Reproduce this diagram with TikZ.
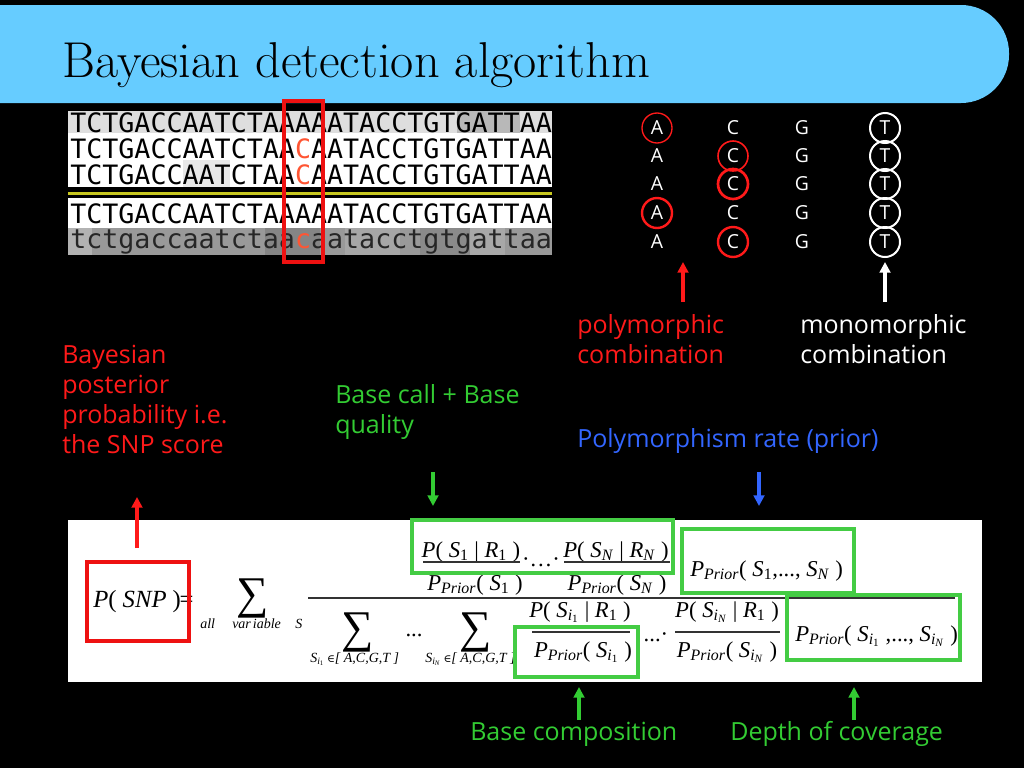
\documentclass[tikz,border=0pt]{standalone}
\usepackage{fontspec}
\usetikzlibrary{arrows.meta}
\newfontfamily\lab{Open Sans}
\newfontfamily\seqf{DejaVu Sans Mono}
\newfontfamily\tnr{Liberation Serif}
\newfontfamily\dvs{DejaVu Serif}
\definecolor{barblue}{HTML}{66CCFF}
\definecolor{lred}{HTML}{FF1A1A}
\definecolor{lgreen}{HTML}{33CC33}
\definecolor{lblue}{HTML}{3366FF}
\definecolor{bgreen}{HTML}{44CC44}
\definecolor{cred}{HTML}{FF5533}
\definecolor{boxred}{HTML}{EE1111}
\definecolor{yline}{HTML}{C8C820}
\newcommand\ssb[1]{\textsubscript{#1}}
\newcommand\Pp{\textit{P}\ssb{\textit{Prior}}}
\newcommand\elt{{\dvs\fontsize{8}{10}\selectfont ∈}}
\tikzset{
  titletxt/.style={font=\fontsize{37.8}{44}\selectfont, text=black, inner sep=0pt, anchor=base west},
  seqtxt/.style={font=\seqf\fontsize{20}{24}\selectfont, text=black, inner sep=0pt, anchor=base west},
  lbl/.style={font=\lab\fontsize{18.75}{22.5}\selectfont, align=left, inner sep=0pt},
  letter/.style={font=\lab\fontsize{14.5}{17}\selectfont, text=white, inner sep=0pt, circle, minimum size=22.5pt},
  fml/.style={font=\tnr\fontsize{17}{20}\selectfont, text=black, inner sep=0pt, anchor=base},
  fsm/.style={font=\tnr\fontsize{10.5}{12}\selectfont, text=black, inner sep=0pt, anchor=base west},
  sumsym/.style={font=\tnr\fontsize{34}{36}\selectfont, text=black, inner sep=0pt},
  arr/.style={line width=2.3pt, -{Triangle[length=8pt,width=8pt]}},
  gbox/.style={draw=bgreen, line width=3pt},
  rbox/.style={draw=boxred, line width=3pt},
  fbar/.style={draw=black!80, line width=0.8pt}
}
\begin{document}
\begin{tikzpicture}[x=0.75pt,y=-0.75pt]
\useasboundingbox (0,0) rectangle (1024,768);
\fill[black] (0,0) rectangle (1024,768);
% title bar
\fill[barblue, rounded corners=36pt] (-60,5) rectangle (1009,103);
\node[titletxt] (title) at (62,77) {Bayesian detection algorithm};

% sequence alignment picture
\begin{scope}
\clip (68,111) rectangle (552,255);
\fill[black!13] (68,110) rectangle (552,133);
\fill[black!28] (457,110) rectangle (520,133);
\fill[white] (68,133) rectangle (552,187);
\fill[black!9] (183,160) rectangle (230,187);
\fill[black] (68,187) rectangle (552,198);
\fill[yline] (68,192) rectangle (552,195);
\fill[white] (68,198) rectangle (552,228);
\fill[black!40] (68,228) rectangle (552,255);
\fill[black!30] (68,228) rectangle (92,255);
\fill[black!48] (265,228) rectangle (320,255);
\fill[black!35] (345,228) rectangle (400,255);
\fill[black!46] (420,228) rectangle (470,255);
\fill[black!34] (470,228) rectangle (505,255);
\node[seqtxt] (r1) at (70,132) {TCTGACCAATCTAAAAATACCTGTGATTAA};
\node[seqtxt] (r2) at (70,158) {TCTGACCAATCTAA\textcolor{cred}{C}AATACCTGTGATTAA};
\node[seqtxt] (r3) at (70,184) {TCTGACCAATCTAA\textcolor{cred}{C}AATACCTGTGATTAA};
\node[seqtxt] (r4) at (70,223) {TCTGACCAATCTAAAAATACCTGTGATTAA};
\node[seqtxt, text=black!85] (r5) at (70,248) {tctgaccaatctaa\textcolor{cred}{c}aatacctgtgattaa};
\end{scope}
\draw[rbox] (284,101) rectangle (323,262);

% base columns
\node[letter, draw=lred, line width=1pt] (a1) at (657,128) {A};
\node[letter] (a2) at (657,156) {A};
\node[letter] (a3) at (657,184) {A};
\node[letter, draw=lred, line width=1.8pt] (a4) at (657,213) {A};
\node[letter] (a5) at (657,242) {A};
\node[letter] (c1) at (733,128) {C};
\node[letter, draw=lred, line width=1.2pt] (c2) at (733,156) {C};
\node[letter, draw=lred, line width=2pt] (c3) at (733,184) {C};
\node[letter] (c4) at (733,213) {C};
\node[letter, draw=lred, line width=1.8pt] (c5) at (733,242) {C};
\node[letter] (g1) at (802,128) {G};
\node[letter] (g2) at (802,156) {G};
\node[letter] (g3) at (802,184) {G};
\node[letter] (g4) at (802,213) {G};
\node[letter] (g5) at (802,242) {G};
\node[letter, draw=white, line width=1.5pt] (t1) at (885,128) {T};
\node[letter, draw=white, line width=1.5pt] (t2) at (885,156) {T};
\node[letter, draw=white, line width=1.5pt] (t3) at (885,184) {T};
\node[letter, draw=white, line width=1.5pt] (t4) at (885,213) {T};
\node[letter, draw=white, line width=1.5pt] (t5) at (885,242) {T};

% labels
\node[lbl, text=lred, anchor=north west] (poly) at (577,314) {polymorphic\\combination};
\node[lbl, text=white, anchor=north west] (mono) at (800,314) {monomorphic\\combination};
\node[lbl, text=lred, anchor=north west] (bay) at (62,345) {Bayesian\\posterior\\probability i.e.\\the SNP score};
\node[lbl, text=lgreen, anchor=north west] (bcall) at (335,384) {Base call + Base\\quality};
\node[lbl, text=lblue, anchor=base west] (prate) at (577,447) {Polymorphism rate (prior)};
\node[lbl, text=lgreen, anchor=base west] (bcomp) at (470,740) {Base composition};
\node[lbl, text=lgreen, anchor=base west] (depth) at (730,740) {Depth of coverage};

% arrows
\coordinate (pa1) at (683,302); \coordinate (pa2) at (683,262);
\coordinate (ma1) at (885,302); \coordinate (ma2) at (885,262);
\coordinate (ga1) at (433,472); \coordinate (ga2) at (433,506);
\coordinate (ba1) at (759,472); \coordinate (ba2) at (759,506);
\coordinate (ra1) at (137,548); \coordinate (ra2) at (137,497);
\coordinate (ca1) at (579,720); \coordinate (ca2) at (579,687);
\coordinate (da1) at (854,720); \coordinate (da2) at (854,687);

% formula panel
\fill[white] (68,520) rectangle (982,682);
\draw[arr, lred] (pa1) -- (pa2);
\draw[arr, white] (ma1) -- (ma2);
\draw[arr, lgreen] (ga1) -- (ga2);
\draw[arr, lblue] (ba1) -- (ba2);
\draw[arr, lred, line width=3pt] (ra1) -- (ra2);
\draw[arr, lgreen] (ca1) -- (ca2);
\draw[arr, lgreen] (da1) -- (da2);

\node[fml, font=\tnr\fontsize{18.5}{22}\selectfont, anchor=base west] (psnp) at (93,607) {\textit{P}( \textit{SNP} )\kern-1pt=};
\node[sumsym] (sum1) at (253,598) {∑};
\node[fsm] (sall) at (200,628) {\textit{all}};
\node[fsm] (svar) at (232,628) {\textit{var\kern1.5pt iable}};
\node[fsm] (sS) at (295,628) {\textit{S}};
\draw[fbar] (308,598) -- (955,598);
% numerator
\node[fml] (n1) at (471,557) {\textit{P}( \textit{S}\ssb{1} | \textit{R}\ssb{1} )};
\draw[fbar] (423,562) -- (520,562);
\node[fml] (d1) at (475,590) {\Pp( \textit{S}\ssb{1} )};
\node[fml] (dots1) at (541,566) {·…·};
\node[fml] (n2) at (616,557) {\textit{P}( \textit{S}\ssb{\textit{N}} | \textit{R}\ssb{\textit{N}} )};
\draw[fbar] (564,562) -- (670,562);
\node[fml] (d2) at (617,590) {\Pp( \textit{S}\ssb{\textit{N}} )};
\node[fml, anchor=base west] (pp1) at (690,576) {\Pp( \textit{S}\ssb{1},..., \textit{S}\ssb{\textit{N}} )};
% denominator
\node[sumsym] (sum2) at (358,632) {∑};
\node[fsm] (sub1) at (310,662) {\textit{S}\ssb{\textit{i}\ssb{1}}\,\elt\textit{[ A,C,G,T ]}};
\node[fml] (dots2) at (414,636) {...};
\node[sumsym] (sum3) at (476,632) {∑};
\node[fsm] (sub2) at (425,662) {\textit{S}\ssb{\textit{i}\ssb{\textit{N}}}\,\elt\textit{[ A,C,G,T ]}};
\node[fml] (n3) at (580,617) {\textit{P}( \textit{S}\ssb{\textit{i}\ssb{1}} | \textit{R}\ssb{1} )};
\draw[fbar] (532,632) -- (630,632);
\node[fml] (d3) at (583,657) {\Pp( \textit{S}\ssb{\textit{i}\ssb{1}} )};
\node[fml] (dots3) at (656,641) {...·};
\node[fml] (n4) at (727,617) {\textit{P}( \textit{S}\ssb{\textit{i}\ssb{\textit{N}}} | \textit{R}\ssb{1} )};
\draw[fbar] (675,632) -- (780,632);
\node[fml] (d4) at (727,657) {\Pp( \textit{S}\ssb{\textit{i}\ssb{\textit{N}}} )};
\node[fml, anchor=base west] (pp2) at (795,641) {\Pp( \textit{S}\ssb{\textit{i}\ssb{1}} ,..., \textit{S}\ssb{\textit{i}\ssb{\textit{N}}} )};
% highlight boxes
\draw[rbox] (87,562) rectangle (189,641);
\draw[gbox] (412,520) rectangle (673,573);
\draw[gbox] (682,529) rectangle (854,593);
\draw[gbox] (787,595) rectangle (960,660);
\draw[gbox] (515,627) rectangle (638,677);
\end{tikzpicture}
\end{document}
